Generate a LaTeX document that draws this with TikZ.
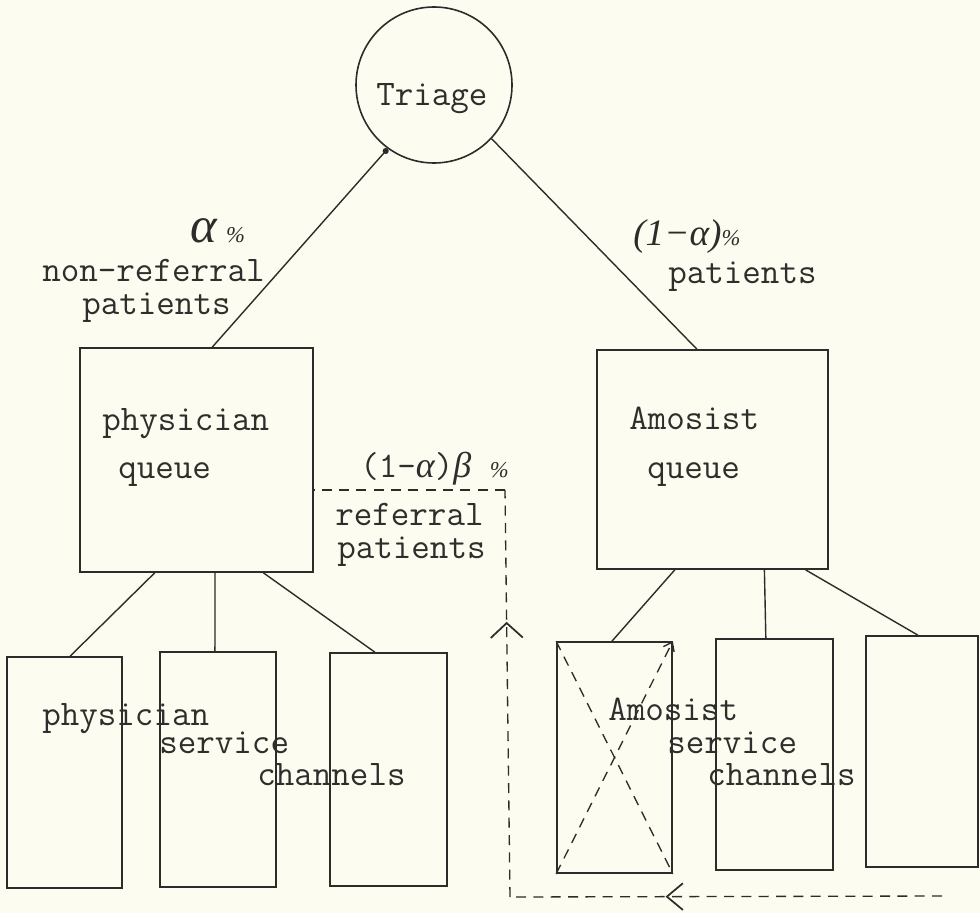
\documentclass[tikz,border=0pt]{standalone}
\usepackage{fontspec}
\newfontfamily\handfont{Liberation Serif}
\usetikzlibrary{arrows.meta,calc,fit,decorations.markings}
\definecolor{paper}{RGB}{252,252,240}
\definecolor{ink}{RGB}{44,44,42}
\definecolor{typeink}{RGB}{46,46,44}
\tikzset{
  link/.style={draw=ink, line width=1.05pt},
  box/.style={draw=ink, line width=1.25pt, inner sep=0pt},
  typed/.style={font=\ttfamily\fontsize{27}{32}\selectfont, text=typeink, inner sep=0pt, anchor=base west},
  hand/.style={font=\handfont\itshape\fontsize{28}{32}\selectfont, text=ink, inner sep=0pt, anchor=base west},
  route/.style={draw=ink, line width=1pt, dash pattern=on 7.5pt off 5.5pt},
}
\newcommand{\pct}{{\handfont\itshape\fontsize{17}{20}\selectfont\%}}
\newcommand{\hnd}[1]{{\handfont\itshape #1}}
\begin{document}
\begin{tikzpicture}[x=0.75pt,y=-0.75pt]
  \path[use as bounding box, fill=paper] (0,0) rectangle (980,913);

  % triage station
  \node[draw=ink, line width=1.2pt, circle, minimum size=117pt, inner sep=0pt] (triage) at (434,85) {};
  \node[typed] (triageTxt) at (376,106) {Triage};

  % queues
  \node[box, fit={(80,348) (313,572)}] (pq) {};
  \node[box, fit={(597,350) (828,569)}] (aq) {};

  % physician service channels
  \node[box, fit={(7,657) (122,888)}] (p1) {};
  \node[box, fit={(160,652) (276,887)}] (p2) {};
  \node[box, fit={(330,653) (447,886)}] (p3) {};

  % Amosist service channels
  \node[box, fit={(557,642) (672,873)}] (a1) {};
  \node[box, fit={(716,639) (833,870)}] (a2) {};
  \node[box, fit={(866,636) (978,867)}] (a3) {};

  % triage split
  \draw[link, {Circle[length=4.5pt]}-] (triage.234) -- ($(pq.north west)!0.567!(pq.north east)$);
  \draw[link] (triage.317) -- ($(aq.north west)!0.433!(aq.north east)$);

  % queue to channels
  \draw[link] ($(pq.south west)!0.322!(pq.south east)$) -- ($(p1.north west)!0.548!(p1.north east)$);
  \draw[link] ($(pq.south west)!0.579!(pq.south east)$) -- ($(p2.north west)!0.474!(p2.north east)$);
  \draw[link] ($(pq.south west)!0.785!(pq.south east)$) -- ($(p3.north west)!0.385!(p3.north east)$);
  \draw[link] ($(aq.south west)!0.338!(aq.south east)$) -- ($(a1.north west)!0.478!(a1.north east)$);
  \draw[link] ($(aq.south west)!0.723!(aq.south east)$) -- ($(a2.north west)!0.427!(a2.north east)$);
  \draw[link] ($(aq.south west)!0.900!(aq.south east)$) -- ($(a3.north west)!0.464!(a3.north east)$);

  % closed channel
  \draw[route] (a1.north west) -- (a1.south east);
  \draw[route, -{Straight Barb[length=6pt,width=9pt]}] (a1.south west) -- (a1.north east);

  % referral return path
  \coordinate (retEnd) at (942,896);
  \coordinate (corner) at (510,897);
  \coordinate (turn) at (505,490);
  \draw[route, postaction={decorate}, decoration={markings,
      mark=at position 0.64 with {\arrow[ink, line width=1.3pt]{Straight Barb[length=12pt,width=20pt]}}}]
    (retEnd) -- (corner);
  \draw[route, postaction={decorate}, decoration={markings,
      mark=at position 0.676 with {\arrow[ink, line width=1.3pt]{Straight Barb[length=11pt,width=24pt]}}}]
    (corner) -- (turn);
  \draw[route] (turn) -- (turn -| pq.east);

  % labels
  \node[hand] (alphaL) at (190,242) {{\fontsize{38}{38}\selectfont α}\ \pct};
  \node[typed] (nonref) at (42,281) {non-referral};
  \node[typed] (patL) at (82,314) {patients};
  \node[hand] (alphaR) at (633,245) {(1−α)\pct};
  \node[typed] (patR) at (668,283) {patients};

  \node[typed] (pqTxt1) at (102,430) {physician};
  \node[typed] (pqTxt2) at (118,478) {queue};
  \node[typed] (aqTxt1) at (629,429) {Amosist};
  \node[typed] (aqTxt2) at (647,478) {queue};

  \node[typed] (betaLbl) at (360,477) {(1-\hnd{α})\hnd{β} \pct};
  \node[typed] (refTxt1) at (335,525) {referral};
  \node[typed] (refTxt2) at (337,558) {patients};

  \node[typed] (psTxt1) at (42,725) {physician};
  \node[typed] (psTxt2) at (159,753) {service};
  \node[typed] (psTxt3) at (257,785) {channels};
  \node[typed] (asTxt1) at (608,720) {Amosist};
  \node[typed] (asTxt2) at (667,753) {service};
  \node[typed] (asTxt3) at (707,785) {channels};
\end{tikzpicture}
\end{document}
